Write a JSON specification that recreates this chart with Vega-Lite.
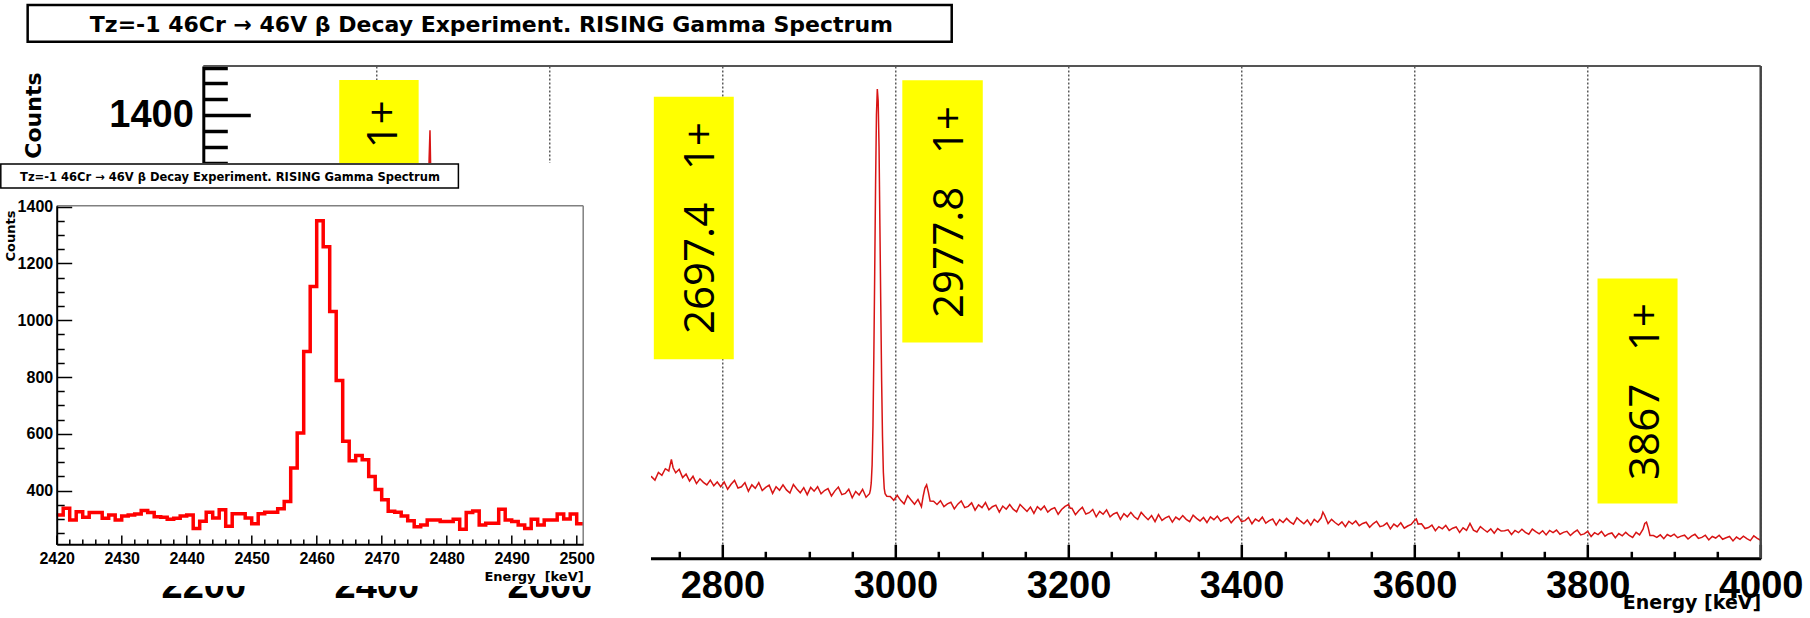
{
  "$schema": "https://vega.github.io/schema/vega-lite/v6.json",
  "width": 1557.4,
  "height": 492.3,
  "autosize": {"type": "none"},
  "padding": {"left": 203.3, "top": 66, "right": 49.3, "bottom": 59.7},
  "background": "#ffffff",
  "config": {
    "view": {"stroke": null},
    "axis": {"labelFont": "Liberation Sans", "labelFontWeight": "bold", "labelColor": "#000000", "titleFont": "DejaVu Sans", "titleFontWeight": "bold", "titleColor": "#000000", "labelFlush": false, "labelOverlap": false, "labelBound": false, "format": "d"}
  },
  "datasets": {
    "main": [
      {"e":2200,"c":425},{"e":2220,"c":410},{"e":2240,"c":402},{"e":2260,"c":390},{"e":2280,"c":384},{"e":2300,"c":372},{"e":2320,"c":365},{"e":2340,"c":352},{"e":2360,"c":346},{"e":2380,"c":335},{"e":2400,"c":326},{"e":2420,"c":316},{"e":2440,"c":306},{"e":2450,"c":318},{"e":2455,"c":338},{"e":2456,"c":362},{"e":2457,"c":480},{"e":2458,"c":603},{"e":2459,"c":890},{"e":2460,"c":1119},{"e":2461,"c":1262},{"e":2462,"c":1352},{"e":2463,"c":1200},{"e":2464,"c":1031},{"e":2465,"c":788},{"e":2466,"c":574},{"e":2467,"c":515},{"e":2468,"c":450},{"e":2469,"c":404},{"e":2470,"c":368},{"e":2472,"c":327},{"e":2480,"c":298},{"e":2500,"c":290},{"e":2520,"c":284},{"e":2540,"c":279},{"e":2560,"c":275},{"e":2580,"c":271},{"e":2600,"c":268},{"e":2620,"c":265},{"e":2640,"c":262},{"e":2660,"c":260},{"e":2680,"c":258},{"e":2700,"c":256},{"e":2714,"c":255},
      {"e":2718,"c":258},{"e":2722,"c":247},{"e":2726,"c":271},{"e":2730,"c":262},{"e":2734,"c":283},{"e":2738,"c":276},{"e":2741,"c":312},{"e":2743,"c":286},{"e":2746,"c":270},{"e":2750,"c":281},{"e":2754,"c":255},{"e":2758,"c":266},{"e":2762,"c":244},{"e":2766,"c":259},{"e":2770,"c":236},{"e":2774,"c":251},{"e":2778,"c":240},{"e":2782,"c":232},{"e":2786,"c":247},{"e":2790,"c":229},{"e":2794,"c":241},{"e":2798,"c":226},
      {"e":2802,"c":241},{"e":2806,"c":218},{"e":2810,"c":234},{"e":2814,"c":246},{"e":2818,"c":222},{"e":2822,"c":226},{"e":2826,"c":239},{"e":2830,"c":212},{"e":2834,"c":232},{"e":2838,"c":221},{"e":2842,"c":239},{"e":2846,"c":214},{"e":2850,"c":224},{"e":2854,"c":231},{"e":2858,"c":205},{"e":2862,"c":226},{"e":2866,"c":215},{"e":2870,"c":232},{"e":2874,"c":216},{"e":2878,"c":206},{"e":2882,"c":233},{"e":2886,"c":219},{"e":2890,"c":207},{"e":2894,"c":223},{"e":2898,"c":201},{"e":2902,"c":224},{"e":2906,"c":212},{"e":2910,"c":226},{"e":2914,"c":204},{"e":2918,"c":214},{"e":2922,"c":220},{"e":2926,"c":197},{"e":2930,"c":213},{"e":2934,"c":225},{"e":2938,"c":201},{"e":2942,"c":205},{"e":2946,"c":218},{"e":2950,"c":191},{"e":2954,"c":211},{"e":2958,"c":200},{"e":2962,"c":218},{"e":2966,"c":193},
      {"e":2970,"c":204},{"e":2971,"c":215},{"e":2972,"c":238},{"e":2973,"c":295},{"e":2974,"c":420},{"e":2975,"c":640},{"e":2976,"c":905},{"e":2977,"c":1180},{"e":2978,"c":1400},{"e":2979,"c":1482},{"e":2980,"c":1445},{"e":2981,"c":1300},{"e":2982,"c":1050},{"e":2983,"c":800},{"e":2984,"c":560},{"e":2985,"c":385},{"e":2986,"c":272},{"e":2987,"c":221},{"e":2988,"c":204},{"e":2990,"c":196},
      {"e":2994,"c":195},{"e":2998,"c":183},{"e":3002,"c":199},{"e":3006,"c":183},{"e":3010,"c":172},{"e":3014,"c":198},{"e":3018,"c":184},{"e":3022,"c":171},{"e":3026,"c":186},{"e":3030,"c":163},{"e":3032,"c":196},{"e":3034,"c":222},{"e":3036,"c":232},{"e":3038,"c":209},{"e":3040,"c":181},
      {"e":3044,"c":180},{"e":3048,"c":170},{"e":3052,"c":182},{"e":3056,"c":163},{"e":3060,"c":172},{"e":3064,"c":177},{"e":3068,"c":156},{"e":3072,"c":171},{"e":3076,"c":181},{"e":3080,"c":160},{"e":3084,"c":164},{"e":3088,"c":175},{"e":3092,"c":152},{"e":3096,"c":169},{"e":3100,"c":160},{"e":3104,"c":176},{"e":3108,"c":153},{"e":3112,"c":163},{"e":3116,"c":168},{"e":3120,"c":146},{"e":3124,"c":165},{"e":3128,"c":155},{"e":3132,"c":170},{"e":3136,"c":155},{"e":3140,"c":147},{"e":3144,"c":170},{"e":3148,"c":159},{"e":3152,"c":148},{"e":3156,"c":162},{"e":3160,"c":142},{"e":3164,"c":163},{"e":3168,"c":153},{"e":3172,"c":165},{"e":3176,"c":146},{"e":3180,"c":155},{"e":3184,"c":160},{"e":3188,"c":139},{"e":3192,"c":154},{"e":3196,"c":164},{"e":3200,"c":170},{"e":3202,"c":158},
      {"e":3204,"c":158},{"e":3208,"c":138},{"e":3212,"c":151},{"e":3216,"c":161},{"e":3220,"c":140},{"e":3224,"c":144},{"e":3228,"c":154},{"e":3232,"c":131},{"e":3236,"c":148},{"e":3240,"c":139},{"e":3244,"c":153},{"e":3248,"c":131},{"e":3252,"c":140},{"e":3256,"c":145},{"e":3260,"c":123},{"e":3264,"c":141},{"e":3268,"c":131},{"e":3272,"c":145},{"e":3276,"c":131},{"e":3280,"c":123},{"e":3284,"c":145},{"e":3288,"c":133},{"e":3292,"c":122},{"e":3296,"c":135},{"e":3300,"c":116},
      {"e":3304,"c":138},{"e":3308,"c":120},{"e":3312,"c":128},{"e":3316,"c":133},{"e":3320,"c":114},{"e":3324,"c":130},{"e":3328,"c":122},{"e":3332,"c":135},{"e":3336,"c":123},{"e":3340,"c":116},{"e":3344,"c":136},{"e":3348,"c":126},{"e":3352,"c":118},{"e":3356,"c":129},{"e":3360,"c":113},{"e":3364,"c":131},{"e":3368,"c":122},{"e":3372,"c":133},{"e":3376,"c":117},{"e":3380,"c":125},{"e":3384,"c":129},{"e":3388,"c":112},{"e":3392,"c":125},{"e":3396,"c":133},{"e":3400,"c":116},{"e":3404,"c":119},{"e":3408,"c":129},{"e":3412,"c":109},{"e":3416,"c":124},{"e":3420,"c":117},{"e":3424,"c":130},{"e":3428,"c":111},{"e":3432,"c":119},{"e":3436,"c":124},{"e":3440,"c":105},{"e":3444,"c":122},{"e":3448,"c":113},{"e":3452,"c":126},{"e":3456,"c":115},{"e":3460,"c":108},{"e":3464,"c":128},{"e":3468,"c":118},{"e":3472,"c":109},{"e":3476,"c":121},{"e":3480,"c":105},{"e":3484,"c":123},{"e":3488,"c":114},{"e":3492,"c":128},{"e":3494,"c":146},{"e":3496,"c":136},{"e":3500,"c":110},
      {"e":3504,"c":123},{"e":3508,"c":113},{"e":3512,"c":105},{"e":3516,"c":115},{"e":3520,"c":100},{"e":3524,"c":117},{"e":3528,"c":108},{"e":3532,"c":118},{"e":3536,"c":103},{"e":3540,"c":110},{"e":3544,"c":114},{"e":3548,"c":98},{"e":3552,"c":109},{"e":3556,"c":117},{"e":3560,"c":100},{"e":3564,"c":103},{"e":3568,"c":112},{"e":3572,"c":93},{"e":3576,"c":108},{"e":3580,"c":100},{"e":3584,"c":112},{"e":3588,"c":95},{"e":3592,"c":102},{"e":3596,"c":107},{"e":3600,"c":120},{"e":3602,"c":124},{"e":3604,"c":108},
      {"e":3608,"c":109},{"e":3612,"c":94},{"e":3616,"c":97},{"e":3620,"c":105},{"e":3624,"c":87},{"e":3628,"c":100},{"e":3632,"c":93},{"e":3636,"c":104},{"e":3640,"c":88},{"e":3644,"c":95},{"e":3648,"c":99},{"e":3652,"c":82},{"e":3656,"c":96},{"e":3660,"c":88},{"e":3664,"c":110},{"e":3668,"c":89},{"e":3672,"c":83},{"e":3676,"c":100},{"e":3680,"c":91},{"e":3684,"c":83},{"e":3688,"c":93},{"e":3692,"c":79},{"e":3696,"c":94},{"e":3700,"c":86},
      {"e":3704,"c":87},{"e":3708,"c":90},{"e":3712,"c":75},{"e":3716,"c":88},{"e":3720,"c":81},{"e":3724,"c":92},{"e":3728,"c":82},{"e":3732,"c":76},{"e":3736,"c":92},{"e":3740,"c":84},{"e":3744,"c":77},{"e":3748,"c":87},{"e":3752,"c":74},{"e":3756,"c":88},{"e":3760,"c":81},{"e":3764,"c":89},{"e":3768,"c":76},{"e":3772,"c":82},{"e":3776,"c":85},{"e":3780,"c":72},{"e":3784,"c":82},{"e":3788,"c":89},{"e":3792,"c":74},{"e":3796,"c":77},{"e":3800,"c":85},{"e":3804,"c":69},{"e":3808,"c":81},{"e":3812,"c":75},{"e":3816,"c":85},{"e":3820,"c":70},{"e":3824,"c":77},{"e":3828,"c":80},{"e":3832,"c":65},{"e":3836,"c":78},{"e":3840,"c":71},{"e":3844,"c":82},{"e":3848,"c":72},{"e":3852,"c":66},{"e":3856,"c":82},{"e":3860,"c":74},{"e":3864,"c":92},{"e":3866,"c":110},{"e":3868,"c":114},{"e":3870,"c":96},{"e":3872,"c":72},
      {"e":3876,"c":72},{"e":3880,"c":66},{"e":3884,"c":74},{"e":3888,"c":62},{"e":3892,"c":75},{"e":3896,"c":69},{"e":3900,"c":76},{"e":3904,"c":65},{"e":3908,"c":70},{"e":3912,"c":73},{"e":3916,"c":61},{"e":3920,"c":70},{"e":3924,"c":76},{"e":3928,"c":63},{"e":3932,"c":66},{"e":3936,"c":73},{"e":3940,"c":58},{"e":3944,"c":69},{"e":3948,"c":64},{"e":3952,"c":73},{"e":3956,"c":60},{"e":3960,"c":65},{"e":3964,"c":69},{"e":3968,"c":55},{"e":3972,"c":67},{"e":3976,"c":60},{"e":3980,"c":70},{"e":3984,"c":62},{"e":3988,"c":56},{"e":3992,"c":71},{"e":3996,"c":63},{"e":4000,"c":57}
    ],
    "inset": [
      {"e":2420,"c":314},{"e":2421,"c":338},{"e":2422,"c":297},{"e":2423,"c":326},{"e":2424,"c":306},{"e":2425,"c":323},{"e":2426,"c":323},{"e":2427,"c":303},{"e":2428,"c":314},{"e":2429,"c":297},{"e":2430,"c":311},{"e":2431,"c":314},{"e":2432,"c":318},{"e":2433,"c":330},{"e":2434,"c":323},{"e":2435,"c":308},{"e":2436,"c":306},{"e":2437,"c":299},{"e":2438,"c":303},{"e":2439,"c":311},{"e":2440,"c":314},{"e":2441,"c":267},{"e":2442,"c":292},{"e":2443,"c":324},{"e":2444,"c":304},{"e":2445,"c":333},{"e":2446,"c":275},{"e":2447,"c":319},{"e":2448,"c":319},{"e":2449,"c":304},{"e":2450,"c":283},{"e":2451,"c":319},{"e":2452,"c":324},{"e":2453,"c":324},{"e":2454,"c":336},{"e":2455,"c":362},{"e":2456,"c":480},{"e":2457,"c":603},{"e":2458,"c":890},{"e":2459,"c":1119},{"e":2460,"c":1350},{"e":2461,"c":1259},{"e":2462,"c":1031},{"e":2463,"c":788},{"e":2464,"c":574},{"e":2465,"c":505},{"e":2466,"c":524},{"e":2467,"c":509},{"e":2468,"c":450},{"e":2469,"c":404},{"e":2470,"c":368},{"e":2471,"c":327},{"e":2472,"c":324},{"e":2473,"c":311},{"e":2474,"c":294},{"e":2475,"c":273},{"e":2476,"c":279},{"e":2477,"c":297},{"e":2478,"c":297},{"e":2479,"c":291},{"e":2480,"c":291},{"e":2481,"c":299},{"e":2482,"c":264},{"e":2483,"c":323},{"e":2484,"c":328},{"e":2485,"c":279},{"e":2486,"c":285},{"e":2487,"c":285},{"e":2488,"c":334},{"e":2489,"c":297},{"e":2490,"c":291},{"e":2491,"c":279},{"e":2492,"c":267},{"e":2493,"c":299},{"e":2494,"c":279},{"e":2495,"c":297},{"e":2496,"c":297},{"e":2497,"c":318},{"e":2498,"c":300},{"e":2499,"c":318},{"e":2500,"c":283},{"e":2501,"c":283}
    ],
    "tags": [
      {"x0":2357.1,"x1":2448.9,"y0":1163,"y1":1510.8,"tx":2423.5,"ty":1371.2,"label":"1+"},
      {"x0":2720.7,"x1":2813.1,"y0":628.6,"y1":1458.0,"tx":2790.1,"ty":1043.3,"label":"2697.4\u00a0\u00a0\u00a01+"},
      {"x0":3007.9,"x1":3100.9,"y0":681.3,"y1":1509.9,"tx":3077.8,"ty":1093.9,"label":"2977.8\u00a0\u00a0\u00a01+"},
      {"x0":3811.4,"x1":3903.9,"y0":172.8,"y1":883.5,"tx":3881.9,"ty":526.9,"label":"3867\u00a0\u00a0\u00a01+"}
    ]
  },
  "layer": [
    {
      "layer": [
        {
          "data": {"name": "main"},
          "mark": {"type": "line", "color": "#d81414", "strokeWidth": 1.5},
          "encoding": {
            "x": {"field": "e", "type": "quantitative", "scale": {"domain": [2200, 4000], "zero": false, "nice": false},
              "axis": {"orient": "bottom", "format": "d", "values": [2200, 2400, 2600, 2800, 3000, 3200, 3400, 3600, 3800, 4000], "ticks": false, "domain": true, "domainColor": "#000000", "domainWidth": 3, "grid": true, "gridColor": "#333333", "gridDash": [2, 2], "gridWidth": 1.2, "labelFontSize": 38, "labelPadding": 9, "title": "Energy [keV]", "titleFontSize": 19, "titleAnchor": "end", "titleAlign": "right", "titleBaseline": "alphabetic", "titleY": 50.3}},
            "y": {"field": "c", "type": "quantitative", "scale": {"domain": [0, 1555], "zero": false, "nice": false},
              "axis": {"orient": "left", "format": "d", "values": [1400], "ticks": false, "domain": true, "domainColor": "#000000", "domainWidth": 3, "grid": false, "labelFontSize": 38, "labelPadding": 10, "title": "Counts", "titleFontSize": 22, "titleAngle": 270, "titleAlign": "right", "titleBaseline": "alphabetic", "titleX": -163.3, "titleY": 6}}
          }
        },
        {
          "data": {"name": "tags"},
          "mark": {"type": "rect", "fill": "#ffff00"},
          "encoding": {
            "x": {"field": "x0", "type": "quantitative", "scale": {"domain": [2200, 4000], "zero": false, "nice": false},
              "axis": {"orient": "bottom", "values": [2200, 2250, 2300, 2350, 2400, 2450, 2500, 2550, 2600, 2650, 2700, 2750, 2800, 2850, 2900, 2950, 3000, 3050, 3100, 3150, 3200, 3250, 3300, 3350, 3400, 3450, 3500, 3550, 3600, 3650, 3700, 3750, 3800, 3850, 3900, 3950, 4000], "labels": false, "domain": false, "grid": false, "title": null, "ticks": true, "tickColor": "#000000", "tickWidth": 2.5, "tickSize": {"condition": {"test": "datum.value % 200 === 0", "value": -14}, "value": -7}}},
            "x2": {"field": "x1"},
            "y": {"field": "y0", "type": "quantitative", "scale": {"domain": [0, 1555], "zero": false, "nice": false},
              "axis": {"orient": "left", "values": [0, 50, 100, 150, 200, 250, 300, 350, 400, 450, 500, 550, 600, 650, 700, 750, 800, 850, 900, 950, 1000, 1050, 1100, 1150, 1200, 1250, 1300, 1350, 1400, 1450, 1500, 1550], "labels": false, "domain": false, "grid": false, "title": null, "ticks": true, "tickColor": "#000000", "tickWidth": 3.5, "tickSize": {"condition": {"test": "datum.value % 200 === 0", "value": -47}, "value": -24}}},
            "y2": {"field": "y1"}
          }
        },
        {
          "data": {"name": "tags"},
          "mark": {"type": "text", "font": "Open Sans", "fontSize": 42, "color": "#000000", "angle": 270, "align": "center", "baseline": "alphabetic"},
          "encoding": {
            "x": {"field": "tx", "type": "quantitative", "scale": {"domain": [2200, 4000], "zero": false, "nice": false}, "axis": null},
            "y": {"field": "ty", "type": "quantitative", "scale": {"domain": [0, 1555], "zero": false, "nice": false}, "axis": null},
            "text": {"field": "label"}
          }
        },
        {
          "data": {"values": [{}]},
          "mark": {"type": "rule", "color": "#555555", "strokeWidth": 2},
          "encoding": {
            "x": {"datum": 2200, "type": "quantitative", "scale": {"domain": [2200, 4000], "zero": false, "nice": false}, "axis": null},
            "x2": {"datum": 4000},
            "y": {"datum": 1555, "type": "quantitative", "scale": {"domain": [0, 1555], "zero": false, "nice": false}, "axis": null}
          }
        },
        {
          "data": {"values": [{}]},
          "mark": {"type": "rule", "color": "#444444", "strokeWidth": 2.5},
          "encoding": {
            "x": {"datum": 4000, "type": "quantitative", "scale": {"domain": [2200, 4000], "zero": false, "nice": false}, "axis": null},
            "y": {"datum": 0, "type": "quantitative", "scale": {"domain": [0, 1555], "zero": false, "nice": false}, "axis": null},
            "y2": {"datum": 1555}
          }
        },
        {
          "data": {"values": [{}]},
          "mark": {"type": "rect", "fill": "#ffffff", "stroke": "#000000", "strokeWidth": 2.5},
          "encoding": {
            "x": {"datum": 1997.0, "type": "quantitative", "scale": {"domain": [2200, 4000], "zero": false, "nice": false}, "axis": null},
            "x2": {"datum": 3065.0},
            "y": {"datum": 1631.8, "type": "quantitative", "scale": {"domain": [0, 1555], "zero": false, "nice": false}, "axis": null},
            "y2": {"datum": 1747.7}
          }
        },
        {
          "data": {"values": [{}]},
          "mark": {"type": "text", "font": "DejaVu Sans", "fontWeight": "bold", "fontSize": 22, "color": "#000000", "align": "center", "baseline": "alphabetic", "text": "Tz=-1 46Cr \u2192 46V \u03b2 Decay Experiment. RISING Gamma Spectrum"},
          "encoding": {
            "x": {"datum": 2533, "type": "quantitative", "scale": {"domain": [2200, 4000], "zero": false, "nice": false}, "axis": null},
            "y": {"datum": 1663.4, "type": "quantitative", "scale": {"domain": [0, 1555], "zero": false, "nice": false}, "axis": null}
          }
        }
      ],
      "resolve": {"axis": {"x": "independent", "y": "independent"}}
    },
    {
      "layer": [
        {
          "data": {"values": [{}]},
          "mark": {"type": "rect", "fill": "#ffffff"},
          "encoding": {
            "x": {"datum": 2411.0, "type": "quantitative", "scale": {"domain": [2420, 2501], "range": [-146.6, 379.9], "zero": false, "nice": false}, "axis": null},
            "x2": {"datum": 2511.43},
            "y": {"datum": 64.2, "type": "quantitative", "scale": {"domain": [211, 1403], "range": [478.3, 139.8], "zero": false, "nice": false}, "axis": null},
            "y2": {"datum": 1553.7}
          }
        },
        {
          "data": {"values": [{}]},
          "mark": {"type": "rect", "fill": "#ffffff", "stroke": "#000000", "strokeWidth": 1.5},
          "encoding": {
            "x": {"datum": 2411.4, "type": "quantitative", "scale": {"domain": [2420, 2501], "range": [-146.6, 379.9], "zero": false, "nice": false}, "axis": null},
            "x2": {"datum": 2481.8},
            "y": {"datum": 1465.7, "type": "quantitative", "scale": {"domain": [211, 1403], "range": [478.3, 139.8], "zero": false, "nice": false}, "axis": null},
            "y2": {"datum": 1550.2}
          }
        },
        {
          "data": {"values": [{}]},
          "mark": {"type": "text", "font": "DejaVu Sans", "fontWeight": "bold", "fontSize": 11.5, "color": "#000000", "align": "center", "baseline": "alphabetic", "text": "Tz=-1 46Cr \u2192 46V \u03b2 Decay Experiment. RISING Gamma Spectrum"},
          "encoding": {
            "x": {"datum": 2446.66, "type": "quantitative", "scale": {"domain": [2420, 2501], "range": [-146.6, 379.9], "zero": false, "nice": false}, "axis": null},
            "y": {"datum": 1491.4, "type": "quantitative", "scale": {"domain": [211, 1403], "range": [478.3, 139.8], "zero": false, "nice": false}, "axis": null}
          }
        },
        {
          "data": {"name": "inset"},
          "mark": {"type": "line", "color": "#ff0000", "strokeWidth": 3.5, "interpolate": "step-after"},
          "encoding": {
            "x": {"field": "e", "type": "quantitative", "scale": {"domain": [2420, 2501], "range": [-146.6, 379.9], "zero": false, "nice": false},
              "axis": {"orient": "bottom", "format": "d", "offset": -14, "zindex": 1, "values": [2420, 2430, 2440, 2450, 2460, 2470, 2480, 2490, 2500], "ticks": false, "domain": true, "domainColor": "#000000", "domainWidth": 2, "grid": false, "labelFontSize": 16, "labelPadding": 6, "title": "Energy\u00a0\u00a0[keV]", "titleFontSize": 13, "titleAnchor": "end", "titleAlign": "right", "titleBaseline": "alphabetic", "titleY": 36.2}},
            "y": {"field": "c", "type": "quantitative", "scale": {"domain": [211, 1403], "range": [478.3, 139.8], "zero": false, "nice": false},
              "axis": {"orient": "left", "format": "d", "offset": 146.6, "zindex": 1, "values": [400, 600, 800, 1000, 1200, 1400], "ticks": false, "domain": true, "domainColor": "#000000", "domainWidth": 2, "grid": false, "labelFontSize": 16, "labelPadding": 4, "title": "Counts", "titleFontSize": 13, "titleAngle": 270, "titleAlign": "right", "titleBaseline": "alphabetic", "titleX": -41.7, "titleY": 144}}
          }
        },
        {
          "data": {"values": [{}]},
          "mark": {"type": "rule", "color": "#808080", "strokeWidth": 1.5},
          "encoding": {
            "x": {"datum": 2420, "type": "quantitative", "scale": {"domain": [2420, 2501], "range": [-146.6, 379.9], "zero": false, "nice": false},
              "axis": {"orient": "bottom", "offset": -14, "zindex": 1, "values": [2420, 2422, 2424, 2426, 2428, 2430, 2432, 2434, 2436, 2438, 2440, 2442, 2444, 2446, 2448, 2450, 2452, 2454, 2456, 2458, 2460, 2462, 2464, 2466, 2468, 2470, 2472, 2474, 2476, 2478, 2480, 2482, 2484, 2486, 2488, 2490, 2492, 2494, 2496, 2498, 2500], "labels": false, "domain": false, "grid": false, "title": null, "ticks": true, "tickColor": "#000000", "tickWidth": 1.5, "tickSize": {"condition": {"test": "datum.value % 10 === 0", "value": -9.3}, "value": -5.3}}},
            "x2": {"datum": 2501},
            "y": {"datum": 1403, "type": "quantitative", "scale": {"domain": [211, 1403], "range": [478.3, 139.8], "zero": false, "nice": false},
              "axis": {"orient": "left", "offset": 146.6, "zindex": 1, "values": [250, 300, 350, 400, 450, 500, 550, 600, 650, 700, 750, 800, 850, 900, 950, 1000, 1050, 1100, 1150, 1200, 1250, 1300, 1350, 1400], "labels": false, "domain": false, "grid": false, "title": null, "ticks": true, "tickColor": "#000000", "tickWidth": 1.5, "tickSize": {"condition": {"test": "datum.value % 200 === 0", "value": -15}, "value": -7.5}}}
          }
        },
        {
          "data": {"values": [{}]},
          "mark": {"type": "rule", "color": "#808080", "strokeWidth": 1.5},
          "encoding": {
            "x": {"datum": 2501, "type": "quantitative", "scale": {"domain": [2420, 2501], "range": [-146.6, 379.9], "zero": false, "nice": false}, "axis": null},
            "y": {"datum": 211, "type": "quantitative", "scale": {"domain": [211, 1403], "range": [478.3, 139.8], "zero": false, "nice": false}, "axis": null},
            "y2": {"datum": 1403}
          }
        }
      ],
      "resolve": {"axis": {"x": "independent", "y": "independent"}}
    }
  ],
  "resolve": {"scale": {"x": "independent", "y": "independent"}, "axis": {"x": "independent", "y": "independent"}}
}
